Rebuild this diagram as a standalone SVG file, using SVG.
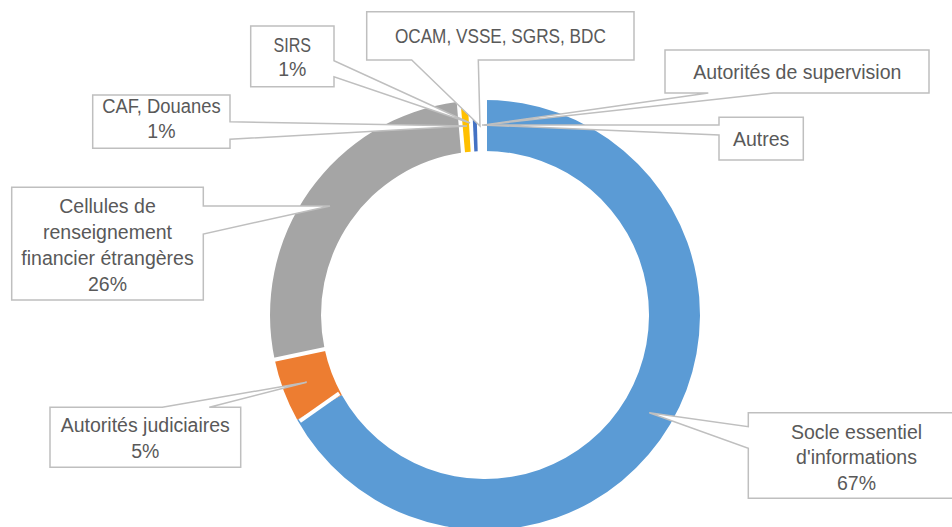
<svg xmlns="http://www.w3.org/2000/svg" width="952" height="527" viewBox="0 0 952 527">
  <style>
    .callout { fill: #ffffff; stroke: #bfbfbf; stroke-width: 1.5; stroke-linejoin: miter; }
    .lbl { font-family: "Liberation Sans", Arial, sans-serif; font-size: 19.5px; fill: #595959; text-anchor: middle; }
    .sep { stroke: #ffffff; stroke-width: 4; }
  </style>
  <rect x="0" y="0" width="952" height="527" fill="#ffffff"/>

  <!-- doughnut ring: centre (485,315), outer radius 215, inner radius 164 -->
  <g id="ring">
    <path id="slice-socle" fill="#5b9bd5" d="M485,100 A215,215 0 1 1 297.2,419.7 L341.8,394.9 A164,164 0 1 0 485,151 Z"/>
    <path id="slice-judiciaires" fill="#ed7d31" d="M297.2,419.7 A215,215 0 0 1 274.7,359.7 L324.6,349.1 A164,164 0 0 0 341.8,394.9 Z"/>
    <path id="slice-cellules" fill="#a5a5a5" d="M274.7,359.7 A215,215 0 0 1 456.7,101.9 L461,152.8 A164,164 0 0 0 324.6,349.1 Z"/>
    <path id="slice-caf" fill="#ffc000" d="M460.7,104 L467.7,103.5 L470.7,151.7 L465,152.3 Z"/>
    <path id="slice-sirs" fill="#4472c4" d="M472,103 L476.3,102.8 L477.7,151.2 L474.3,151.6 Z"/>
    <!-- white borders between slices -->
    <line class="sep" x1="485" y1="97" x2="485" y2="154"/>
    <line class="sep" x1="299.8" y1="421.2" x2="339.2" y2="393.4"/>
    <line class="sep" x1="271.8" y1="360.3" x2="327.5" y2="348.5"/>
  </g>

  <!-- data labels with their callout leaders -->
  <g id="label-socle">
    <path class="callout" d="M748.3,412.7 H966 V498.3 H748.3 V448.3 L649.3,412.7 L748.3,426.7 Z"/>
    <text class="lbl" x="856.5" y="438.7">Socle essentiel</text>
    <text class="lbl" x="856.5" y="464.2">d'informations</text>
    <text class="lbl" x="856.5" y="489.7">67%</text>
  </g>
  <g id="label-judiciaires">
    <path class="callout" d="M50,407.3 H162.3 L306.7,382.3 L209.3,407.3 H240.7 V467.3 H50 Z"/>
    <text class="lbl" x="145.3" y="431.7">Autorités judiciaires</text>
    <text class="lbl" x="145.3" y="457.7">5%</text>
  </g>
  <g id="label-cellules">
    <path class="callout" d="M11.7,187.3 H203.3 V206 L330,206 L203.3,234 V300 H11.7 Z"/>
    <text class="lbl" x="107.5" y="212.5">Cellules de</text>
    <text class="lbl" x="107.5" y="238.5">renseignement</text>
    <text class="lbl" x="107.5" y="264.7">financier étrangères</text>
    <text class="lbl" x="107.5" y="290.7">26%</text>
  </g>
  <g id="label-caf">
    <path class="callout" d="M92.7,95 H230 V121.7 L467,126 L230,139.3 V148.3 H92.7 Z"/>
    <text class="lbl" x="161.4" y="112.7" textLength="118.5" lengthAdjust="spacingAndGlyphs">CAF, Douanes</text>
    <text class="lbl" x="161.4" y="138.3">1%</text>
  </g>
  <g id="label-sirs">
    <path class="callout" d="M250.7,26 H334 V60.7 L470,123 L334,76.7 V86.7 H250.7 Z"/>
    <text class="lbl" x="292.3" y="51.7" textLength="37.5" lengthAdjust="spacingAndGlyphs">SIRS</text>
    <text class="lbl" x="292.3" y="76">1%</text>
  </g>
  <g id="label-ocam">
    <path class="callout" d="M366.7,11.7 H634 V60 H478.3 L480,126 L411.7,60 H366.7 Z"/>
    <text class="lbl" x="500.4" y="43.3" textLength="211" lengthAdjust="spacingAndGlyphs">OCAM, VSSE, SGRS, BDC</text>
  </g>
  <g id="label-supervision">
    <path class="callout" d="M665,50 H929 V93 H773.3 L484,125 L708.3,93 H665 Z"/>
    <text class="lbl" x="797.3" y="79.3">Autorités de supervision</text>
  </g>
  <g id="label-autres">
    <path class="callout" d="M719,117.3 H803.3 V160 H719 V135 L482,125 L719,125 Z"/>
    <text class="lbl" x="761.2" y="145.7">Autres</text>
  </g>
</svg>
